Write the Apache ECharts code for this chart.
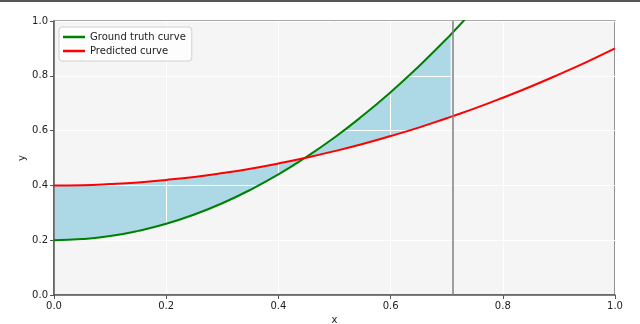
<!DOCTYPE html>
<html>
<head>
<meta charset="utf-8">
<script src="https://cdn.jsdelivr.net/npm/echarts@6/dist/echarts.min.js"></script>
<style>
  html, body { margin: 0; padding: 0; background: #fff; }
  #chart { width: 640px; height: 324px; }
</style>
</head>
<body>
<div id="chart"></div>
<script>
// values
const xs = [0, 0.05, 0.1, 0.15, 0.2, 0.25, 0.3, 0.35, 0.4, 0.447, 0.5, 0.55, 0.6, 0.65, 0.7, 0.707, 0.75, 0.8, 0.85, 0.9, 0.95, 1.0]
const truthY = [0.2, 0.204, 0.215, 0.234, 0.26, 0.294, 0.335, 0.384, 0.44, 0.5, 0.575, 0.654, 0.74, 0.834, 0.935, 0.95, 1.044, null, null, null, null, null]
const predY = [0.4, 0.401, 0.405, 0.411, 0.42, 0.431, 0.445, 0.461, 0.48, 0.5, 0.525, 0.551, 0.58, 0.611, 0.645, 0.65, 0.681, 0.72, 0.761, 0.805, 0.851, 0.9]
const cutX = 0.707
const xTicks = [0, 0.2, 0.4, 0.6, 0.8, 1.0]
const yTicks = [0, 0.2, 0.4, 0.6, 0.8, 1.0]

const truthData = xs.map((x, i) => [x, truthY[i]]).filter(p => p[1] !== null)
const predData = xs.map((x, i) => [x, predY[i]])

const fillIdx = xs.map((x, i) => i).filter(i => xs[i] <= cutX)

const chart = echarts.init(document.getElementById('chart'))
chart.setOption({
  backgroundColor: '#fff',
  animation: false,
  textStyle: { fontFamily: 'DejaVu Sans' },
  graphic: [{
    type: 'rect',
    shape: { x: 0, y: 0, width: 640, height: 2 },
    style: { fill: '#555' }
  }],
  grid: {
    left: 54, right: 25, top: 21, bottom: 29,
    outerBoundsMode: 'none',
    containLabel: false,
    show: true, backgroundColor: '#f5f5f5', borderColor: '#555', borderWidth: 1.2
  },
  legend: {
    orient: 'vertical',
    left: 59, top: 27,
    padding: [5, 6, 5, 4],
    itemGap: 4,
    itemWidth: 22, itemHeight: 2.5,
    backgroundColor: 'rgba(255,255,255,0.8)',
    borderColor: '#d0d0d0', borderWidth: 1, borderRadius: 3,
    textStyle: { fontSize: 10, color: '#222', fontFamily: 'DejaVu Sans' },
    data: [
      { name: 'Ground truth curve', icon: 'rect' },
      { name: 'Predicted curve', icon: 'rect' }
    ]
  },
  xAxis: {
    type: 'value', min: 0, max: 1, interval: 0.2, z: 2,
    name: 'x', nameLocation: 'middle', nameGap: 20, nameMoveOverlap: false,
    nameTextStyle: { fontSize: 10, color: '#222' },
    axisLine: { lineStyle: { color: '#555', width: 1.5 } },
    axisTick: { show: true, length: 4, lineStyle: { color: '#555' } },
    axisLabel: { fontSize: 10, color: '#222', margin: 6, formatter: v => xTicks.includes(+v.toFixed(1)) ? v.toFixed(1) : '' },
    splitLine: { show: true, lineStyle: { color: '#fff', width: 1 } }
  },
  yAxis: {
    type: 'value', min: 0, max: 1, interval: 0.2, z: 2,
    name: 'y', nameLocation: 'middle', nameGap: 27, nameRotate: 90, nameMoveOverlap: false,
    nameTextStyle: { fontSize: 10, color: '#222' },
    axisLine: { show: true, lineStyle: { color: '#555', width: 1.5 } },
    axisTick: { show: true, length: 4, lineStyle: { color: '#555' } },
    axisLabel: { fontSize: 10, color: '#222', margin: 6, formatter: v => yTicks.includes(+v.toFixed(1)) ? v.toFixed(1) : '' },
    splitLine: { show: true, lineStyle: { color: '#fff', width: 1 } }
  },
  series: [
    {
      type: 'custom',
      name: 'fill',
      z: 1,
      silent: true,
      data: [0],
      renderItem: (params, api) => {
        const top = fillIdx.map(i => api.coord([xs[i], Math.max(truthY[i], predY[i])]))
        const bot = fillIdx.slice().reverse().map(i => api.coord([xs[i], Math.min(truthY[i], predY[i])]))
        return {
          type: 'polygon',
          shape: { points: top.concat(bot), smooth: 0 },
          style: { fill: '#add8e6' }
        }
      }
    },
    {
      type: 'line',
      name: 'Ground truth curve',
      z: 3,
      data: truthData,
      smooth: true,
      showSymbol: false,
      clip: true,
      color: '#008000',
      lineStyle: { color: '#008000', width: 2 }
    },
    {
      type: 'line',
      name: 'Predicted curve',
      z: 3,
      data: predData,
      smooth: true,
      showSymbol: false,
      color: '#ff0000',
      lineStyle: { color: '#ff0000', width: 2 },
      markLine: {
        silent: true,
        symbol: 'none',
        label: { show: false },
        lineStyle: { color: '#808080', width: 1.5, type: 'solid' },
        data: [{ xAxis: cutX }]
      }
    }
  ]
})
</script>
</body>
</html>
